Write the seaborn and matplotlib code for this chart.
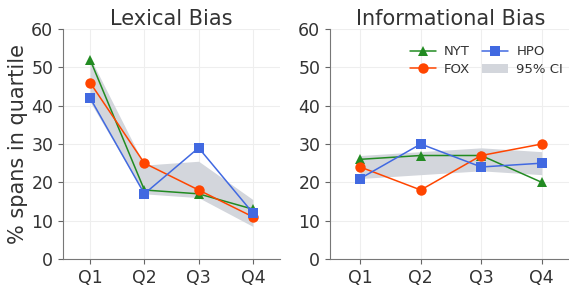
import pandas as pd
import seaborn as sns
import matplotlib.pyplot as plt
from matplotlib.patches import Patch
from matplotlib.lines import Line2D

# Data
quartiles = ["Q1", "Q2", "Q3", "Q4"]
outlets = ["NYT", "FOX", "HPO"]

lexical_nyt = [52, 18, 17, 13]
lexical_fox = [46, 25, 18, 11]
lexical_hpo = [42, 17, 29, 12]
lexical_ci_low = [41, 17, 16, 8.5]
lexical_ci_high = [52.5, 24.5, 25.5, 15.5]

info_nyt = [26, 27, 27, 20]
info_fox = [24, 18, 27, 30]
info_hpo = [21, 30, 24, 25]
info_ci_low = [21, 22, 23, 22]
info_ci_high = [27, 28, 29, 28]

colors = {"NYT": "#228b22", "FOX": "#ff4500", "HPO": "#4169e1"}
markers = {"NYT": "^", "FOX": "o", "HPO": "s"}
band = "#d3d6dc"


def to_long(nyt, fox, hpo):
    rows = []
    for name, vals in zip(outlets, [nyt, fox, hpo]):
        for i, v in enumerate(vals):
            rows.append({"q": i, "outlet": name, "pct": v})
    return pd.DataFrame(rows)


sns.set_style("ticks")
plt.rcParams["font.family"] = ["DejaVu Sans"]

fig = plt.figure(figsize=(5.69, 2.86), dpi=100)
W, H = 569, 286
ax_left = fig.add_axes([63 / W, 27 / H, 217 / W, 230 / H])
ax_right = fig.add_axes([330 / W, 27 / H, 242 / W, 230 / H])
axes = [ax_left, ax_right]

panels = [
    ("Lexical Bias", to_long(lexical_nyt, lexical_fox, lexical_hpo), lexical_ci_low, lexical_ci_high),
    ("Informational Bias", to_long(info_nyt, info_fox, info_hpo), info_ci_low, info_ci_high),
]

for ax, (title, df, lo, hi) in zip(axes, panels):
    ax.fill_between(range(4), lo, hi, color=band, linewidth=0, zorder=1)
    sns.lineplot(data=df, x="q", y="pct", hue="outlet", style="outlet",
                 palette=colors, markers=markers, dashes=False,
                 markersize=7.5, markeredgewidth=0, linewidth=1.1,
                 legend=False, ax=ax, zorder=3)
    ax.set_title(title, fontsize=15, pad=3, color="#333333")
    ax.set_xlim(-0.5, 3.5)
    ax.set_ylim(0, 60)
    ax.set_xticks(range(4))
    ax.set_xticklabels(quartiles)
    ax.set_yticks(range(0, 61, 10))
    ax.tick_params(labelsize=12.5, color="#666666", labelcolor="#333333")
    ax.grid(True, color="#eeeeee", linewidth=0.8)
    ax.set_axisbelow(True)
    ax.set_xlabel("")
    ax.set_ylabel("")
    for s in ["left", "bottom"]:
        ax.spines[s].set_color("#777777")
    sns.despine(ax=ax)

ax_left.set_ylabel("% spans in quartile", fontsize=15, color="#333333", labelpad=2)

handles = [Line2D([], [], color=colors[o], marker=markers[o], markersize=7.5,
                  markeredgewidth=0, linewidth=1.1) for o in outlets]
handles.append(Patch(facecolor=band, edgecolor="none"))
ax_right.legend(handles, outlets + ["95% CI"], ncol=2, frameon=False,
                fontsize=9.5, loc="upper left", bbox_to_anchor=(0.28, 0.98),
                handlelength=2.0, columnspacing=0.9, labelspacing=0.35,
                handletextpad=0.6, labelcolor="#333333")

fig.savefig("out.png", dpi=100)
